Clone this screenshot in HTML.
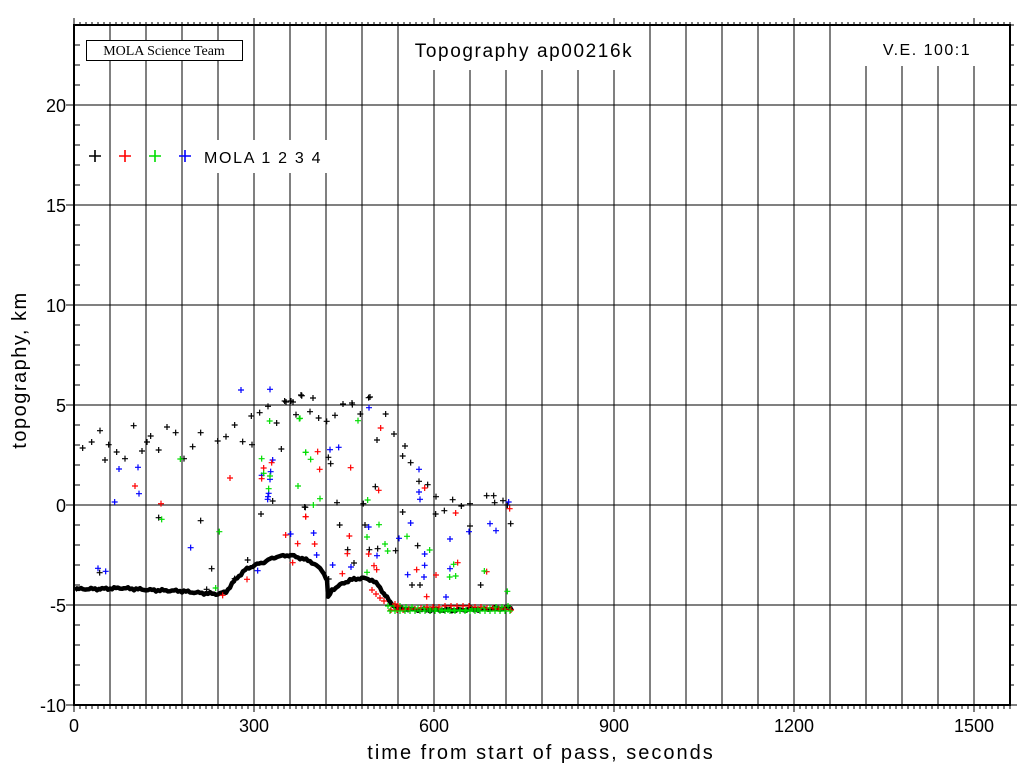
<!DOCTYPE html>
<html><head><meta charset="utf-8"><style>
html,body{margin:0;padding:0;background:#fff;}
svg{display:block;}
text{font-family:"Liberation Sans",sans-serif;fill:#000;}
</style></head><body>
<svg id="s" width="1024" height="768" viewBox="0 0 1024 768" xmlns="http://www.w3.org/2000/svg">
<rect width="1024" height="768" fill="#fff"/>
<g id="grid" stroke="#000" stroke-width="1"></g>
<g id="data"></g>
<g id="ticks" stroke="#000" stroke-width="1"></g>
<rect x="400" y="26" width="249" height="44" fill="#fff"/>
<rect x="862" y="26" width="130" height="40" fill="#fff"/>
<rect x="200" y="140" width="128" height="33" fill="#fff"/>
<rect x="86.5" y="40.5" width="156" height="20" fill="#fff" stroke="#000" stroke-width="1"/>
<text x="164" y="55" font-size="14" text-anchor="middle" style="font-family:'Liberation Serif',serif">MOLA Science Team</text>
<text x="524" y="57" font-size="19" text-anchor="middle" letter-spacing="1.6">Topography ap00216k</text>
<text x="927" y="55" font-size="16" text-anchor="middle" letter-spacing="1.5">V.E. 100:1</text>
<g stroke-width="1.6">
<path d="M89 156h12M95 150v12" stroke="#000"/>
<path d="M119 156h12M125 150v12" stroke="#f00"/>
<path d="M149 156h12M155 150v12" stroke="#0d0"/>
<path d="M179 156h12M185 150v12" stroke="#00f"/>
</g>
<text x="204" y="163" font-size="16" letter-spacing="1.7">MOLA 1 2 3 4</text>
<rect x="74" y="25" width="936" height="680" fill="none" stroke="#000" stroke-width="2"/>
<g font-size="18" text-anchor="end">
<text x="66" y="112">20</text><text x="66" y="212">15</text><text x="66" y="312">10</text>
<text x="66" y="412">5</text><text x="66" y="512">0</text><text x="66" y="612">-5</text><text x="66" y="712">-10</text>
</g>
<g font-size="18" text-anchor="middle">
<text x="74" y="732">0</text><text x="254" y="732">300</text><text x="434" y="732">600</text>
<text x="614" y="732">900</text><text x="794" y="732">1200</text><text x="974" y="732">1500</text>
</g>
<text x="541" y="759" font-size="20" text-anchor="middle" letter-spacing="2">time from start of pass, seconds</text>
<text transform="translate(26 370) rotate(-90)" font-size="20" text-anchor="middle" letter-spacing="1.5">topography, km</text>
</svg>
<script>
var NS="http://www.w3.org/2000/svg";
function el(p,n,a){var e=document.createElementNS(NS,n);for(var k in a)e.setAttribute(k,a[k]);document.getElementById(p).appendChild(e);return e;}
var d="";
for(var x=110;x<1010;x+=36)d+="M"+x+" 25V705";
for(var y=105;y<705;y+=100)d+="M74 "+y+"H1010";
el("grid","path",{d:d});
var t="";
for(var x=74;x<=1010;x+=6){var maj=((x-74)%180==0);t+="M"+x+" 705v"+(maj?7:4)+"M"+x+" 25v-"+(maj?7:3);}
for(var y=25;y<=705;y+=20){var maj=((y-105)%100==0);t+="M74 "+y+"h-"+(maj?8:0)+"M74 "+y+"h6M1010 "+y+"h"+(maj?7:4);}
el("ticks","path",{d:t});
var prof=[[75,589],[100,589],[120,588],[150,590],[180,591],[200,593],[218,594],[226,592],[235,580],[245,570],[255,565],[262,563],[275,557],[290,555],[300,558],[310,561],[322,570],[327,580],[328,598],[332,590],[340,585],[350,580],[362,578],[372,580],[378,585],[385,595],[390,602],[395,607],[400,609],[430,610],[460,610],[490,609],[513,608]];
// densify with jitter
var pts=[];
for(var i=0;i<prof.length-1;i++){var a=prof[i],b=prof[i+1];for(var x=a[0];x<b[0];x+=2){var f=(x-a[0])/(b[0]-a[0]);pts.push([x,a[1]+(b[1]-a[1])*f+(Math.sin(x*1.7)+Math.sin(x*0.53))*0.7]);}}
pts.push(prof[prof.length-1]);
var pd="M"+pts.map(function(p){return p[0]+" "+p[1].toFixed(1)}).join("L");
el("data","path",{d:pd,fill:"none",stroke:"#000","stroke-width":4.5,"stroke-linejoin":"round"});
var cols={k:"#000",b:"#00f",r:"#f00",g:"#0d0"};
function plus(x,y,c){el("data","path",{d:"M"+(x-3)+" "+y+"h6M"+x+" "+(y-3)+"v6",stroke:c,"stroke-width":1.2});}
function z4(list,c){list.forEach(function(p){plus(70+p[0]/3,380+p[1]/3,c);});}
function z5(list,c){list.forEach(function(p){plus(300+p[0]/3,380+p[1]/3,c);});}
z4([[38,204],[65,186],[90,152],[105,240],[116,194],[140,216],[165,236],[191,137],[216,213],[231,186],[242,168],[266,210],[291,141],[317,158],[342,236],[368,200],[392,158],[443,183],[468,170],[494,135],[518,185],[544,108],[546,194],[569,98],[594,79],[608,363],[620,129],[634,207],[644,63],[669,66],[678,104],[695,47],[266,413],[392,422],[425,566],[410,628],[494,596],[533,540],[573,402],[89,578],[706,382]],cols.k);
z4([[600,28],[147,267],[204,262],[207,341],[134,366],[362,503],[84,565],[107,574],[608,240],[575,286],[602,275],[600,298],[596,340],[594,350],[593,358],[563,572],[662,462]],cols.b);
z4([[195,318],[273,371],[480,294],[581,264],[605,248],[575,296],[647,465],[683,491],[707,410],[531,598],[458,646],[668,548]],cols.r);
z4([[331,237],[275,418],[448,455],[437,624],[599,123],[575,236],[581,280],[600,288],[596,326],[688,116],[684,318],[707,217]],cols.g);
z5([[5,47],[206,53],[30,95],[56,114],[80,124],[105,106],[181,102],[157,74],[257,102],[282,162],[231,180],[315,198],[308,228],[332,248],[85,232],[92,251],[357,304],[383,314],[226,320],[408,350],[458,359],[484,378],[510,371],[560,347],[581,347],[584,368],[609,362],[622,375],[632,431],[14,381],[111,368],[190,371],[308,396],[407,402],[433,392],[119,435],[195,435],[510,438],[143,509],[208,509],[233,506],[287,512],[353,497],[162,549],[336,615],[360,615],[542,615],[86,597]],cols.k);
z5([[207,83],[90,209],[116,202],[357,268],[357,336],[360,358],[626,366],[206,441],[41,459],[332,429],[297,475],[450,477],[570,431],[588,452],[507,455],[50,525],[231,527],[374,522],[374,556],[98,555],[153,561],[323,584],[372,591],[450,566],[438,651]],cols.b);
z5([[242,144],[53,215],[59,268],[152,263],[236,331],[374,324],[17,410],[467,399],[629,386],[148,468],[44,492],[206,522],[142,521],[222,557],[230,569],[127,581],[350,569],[408,585],[473,548],[560,575],[380,650]],cols.r);
z5([[0,115],[174,122],[17,217],[32,238],[60,356],[40,375],[203,360],[237,434],[201,471],[255,492],[263,513],[321,469],[389,510],[201,577],[461,553],[449,591],[467,588],[553,573],[622,634]],cols.g);
[[241,390],[286,402],[291,401],[301,395],[370,397],[313,398],[343,404],[352,403]].forEach(function(p){plus(p[0],p[1],p[0]==241?cols.b:cols.k);});
for(var x=388;x<=513;x+=3){var y=608+Math.round(Math.sin(x)*2);plus(x,y,(x%2? "#f00":"#0d0"));}
for(var x=390;x<=512;x+=5){plus(x,611,"#0d0");}
[[395,604],[398,606],[380,598],[384,601],[372,590],[376,594]].forEach(function(p){plus(p[0],p[1],"#f00");});
</script>
</body></html>
